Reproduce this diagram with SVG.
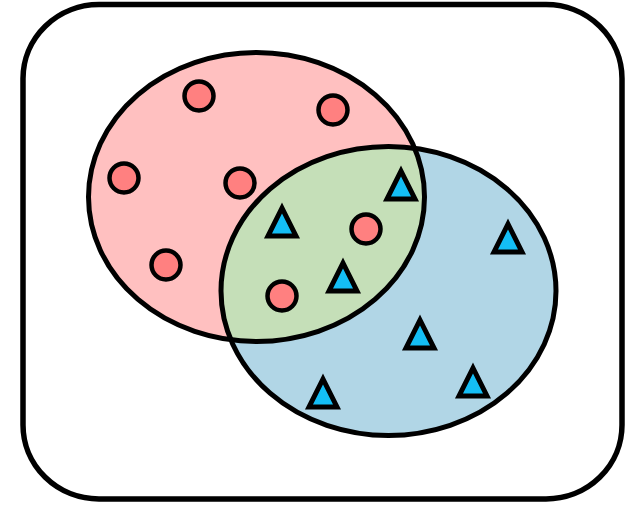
<svg xmlns="http://www.w3.org/2000/svg" width="626" height="505" viewBox="0 0 626 505">
<style>
.frame{fill:#ffffff;stroke:#000;stroke-width:5.5}
.outline{fill:none;stroke:#000;stroke-width:5}
.dot{fill:#ff8080;stroke:#000;stroke-width:4.5}
.tri{fill:#14bef5;stroke:#000;stroke-width:5;stroke-linejoin:miter}
</style>
<defs>
<clipPath id="clipRed"><ellipse cx="256.5" cy="197" rx="168" ry="144.5"/></clipPath>
<path id="triShape" d="M0,6 L14,34 L-14,34 Z"/>
</defs>
<rect class="frame" x="23" y="4.5" width="599" height="494.5" rx="76" ry="74"/>
<g id="setA"><ellipse cx="256.5" cy="197" rx="168" ry="144.5" fill="#ffc0c0"/></g>
<g id="setB"><ellipse cx="388.5" cy="291" rx="167.5" ry="144.5" fill="#b1d6e6"/></g>
<g id="intersection"><ellipse cx="388.5" cy="291" rx="167.5" ry="144.5" fill="#c5dfb8" clip-path="url(#clipRed)"/></g>
<g id="outlines">
<ellipse class="outline" cx="256.5" cy="197" rx="168" ry="144.5"/>
<ellipse class="outline" cx="388.5" cy="291" rx="167.5" ry="144.5"/>
</g>
<g id="circles">
<circle class="dot" cx="199" cy="96" r="14.5"/>
<circle class="dot" cx="333" cy="110" r="14.5"/>
<circle class="dot" cx="124" cy="178" r="14.5"/>
<circle class="dot" cx="240" cy="183" r="14.5"/>
<circle class="dot" cx="166" cy="265" r="14.5"/>
<circle class="dot" cx="366" cy="229" r="14.5"/>
<circle class="dot" cx="282" cy="296" r="14.5"/>
</g>
<g id="triangles">
<use class="tri" href="#triShape" x="401" y="165"/>
<use class="tri" href="#triShape" x="282" y="202"/>
<use class="tri" href="#triShape" x="343" y="257"/>
<use class="tri" href="#triShape" x="508" y="218"/>
<use class="tri" href="#triShape" x="420" y="314"/>
<use class="tri" href="#triShape" x="473" y="362"/>
<use class="tri" href="#triShape" x="323" y="373"/>
</g>
</svg>
